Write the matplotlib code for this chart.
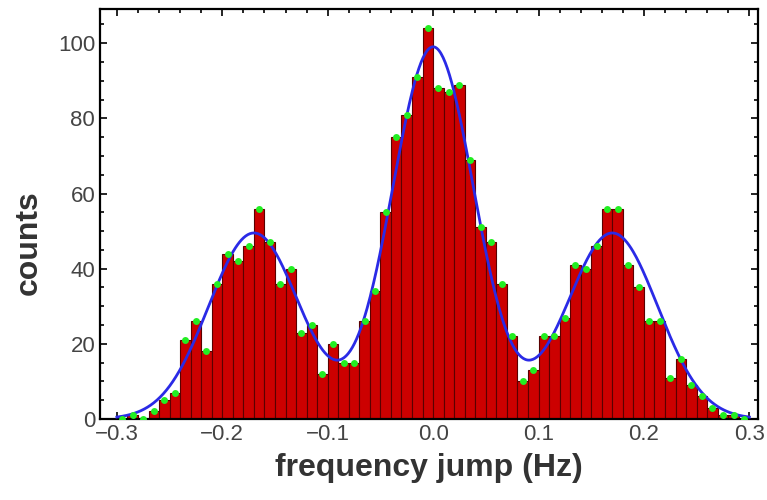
import numpy as np
import matplotlib
matplotlib.use("Agg")
import matplotlib.pyplot as plt
from matplotlib.ticker import MultipleLocator

plt.rcParams['font.family'] = ['Liberation Sans', 'DejaVu Sans']

# histogram: left edge of each 0.01 Hz bin and its count
bin_width = 0.01
bin_left = np.round(np.arange(-0.30, 0.30, bin_width), 2)
counts = [0, 1, 0, 2, 5, 7, 21, 26, 18, 36,
          44, 42, 46, 56, 47, 36, 40, 23, 25, 12,
          20, 15, 15, 26, 34, 55, 75, 81, 91, 104,
          88, 87, 89, 69, 51, 47, 36, 22, 10, 13,
          22, 22, 27, 41, 40, 46, 56, 56, 41, 35,
          26, 26, 11, 16, 9, 6, 3, 1, 1, 0]

# triple gaussian fit
fit_center = [-0.17, 0.0, 0.17]
fit_amp = [49.5, 99.0, 49.5]
fit_sigma = [0.043, 0.039, 0.043]

fig = plt.figure(figsize=(7.67, 5.0), dpi=100)
ax = fig.add_axes([0.1304, 0.162, 0.8576, 0.820])

ax.bar(bin_left, counts, width=bin_width, align='edge',
       color='#cc0000', edgecolor='#5a0000', linewidth=0.8, zorder=2)

xs = np.linspace(-0.30, 0.30, 600)
fit = np.zeros_like(xs)
for c, a, s in zip(fit_center, fit_amp, fit_sigma):
    fit += a * np.exp(-(xs - c) ** 2 / (2 * s ** 2))
ax.plot(xs, fit, color='#2a2ae6', linewidth=2.0, zorder=3)

centers = bin_left + bin_width / 2
ax.plot(centers, counts, 'o', color='#22ee22', markersize=5,
        markeredgewidth=0, zorder=4)

ax.set_xlim(-0.316, 0.308)
ax.set_ylim(0, 109.1)
ax.xaxis.set_major_locator(MultipleLocator(0.1))
ax.xaxis.set_minor_locator(MultipleLocator(0.02))
ax.yaxis.set_major_locator(MultipleLocator(20))
ax.yaxis.set_minor_locator(MultipleLocator(5))
ax.set_xticks([-0.3, -0.2, -0.1, 0.0, 0.1, 0.2, 0.3])
ax.set_xticklabels(['\u22120.3', '\u22120.2', '\u22120.1', '0.0', '0.1', '0.2', '0.3'])

ax.tick_params(which='both', direction='in', top=True, right=True,
               labelsize=16, labelcolor='#444444', width=1.2)
ax.tick_params(which='major', length=5)
ax.tick_params(which='minor', length=3)
for sp in ax.spines.values():
    sp.set_linewidth(1.6)

ax.set_xlabel('frequency jump (Hz)', fontsize=23, fontweight='bold',
              color='#333333', labelpad=6)
ax.set_ylabel('counts', fontsize=23, fontweight='bold', color='#333333')
ax.yaxis.set_label_coords(-0.085, 0.43)

fig.savefig('out.png', dpi=100)
